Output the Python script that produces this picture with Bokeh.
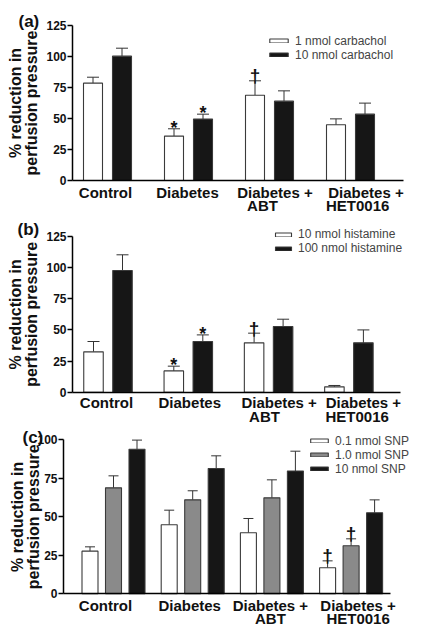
import numpy as np
from bokeh.plotting import figure
from bokeh.models import (ColumnDataSource, Range1d, FixedTicker, Whisker, TeeHead,
                          Legend, LegendItem, Label)
from bokeh.layouts import column
from bokeh.embed import file_html
from bokeh.resources import INLINE
from bokeh.core.properties import value

FONT = "Liberation Sans"

# ---------------- data ----------------
categories = ["Control", "Diabetes", "Diabetes +\nABT", "Diabetes +\nHET0016"]
y_title = "% reduction in\nperfusion pressure"

# (a) carbachol
a_labels = ["1 nmol carbachol", "10 nmol carbachol"]
a_carb1 = [78.5, 35.8, 68.8, 44.9]
a_carb1_err = [4.8, 5.9, 11.6, 4.8]
a_carb10 = [100.3, 49.5, 64.0, 53.5]
a_carb10_err = [6.4, 4.0, 8.3, 8.9]
a_sig = [["", "*", "\u2020", ""], ["", "*", "", ""]]

# (b) histamine
b_labels = ["10 nmol histamine", "100 nmol histamine"]
b_hist10 = [32.4, 17.1, 39.6, 4.3]
b_hist10_err = [8.3, 3.8, 7.8, 1.1]
b_hist100 = [97.7, 40.7, 52.7, 39.6]
b_hist100_err = [12.6, 5.3, 5.9, 10.4]
b_sig = [["", "*", "\u2020", ""], ["", "*", "", ""]]

# (c) SNP
c_labels = ["0.1 nmol SNP", "1.0 nmol SNP", "10 nmol SNP"]
c_snp01 = [27.7, 44.8, 39.6, 16.9]
c_snp01_err = [2.8, 9.5, 9.3, 4.5]
c_snp1 = [68.8, 61.0, 62.3, 31.2]
c_snp1_err = [7.8, 5.9, 11.7, 4.5]
c_snp10 = [93.9, 81.4, 79.7, 52.6]
c_snp10_err = [5.9, 8.2, 12.9, 8.4]
c_sig = [["", "", "", "\u2020"], ["", "", "", "\u2020"], ["", "", "", ""]]

ticks_ab = [0, 25, 50, 75, 100, 125]
ticks_c = [0, 25, 50, 75, 100]

WHITE = "#ffffff"
GRAY = "#8a8a8a"
BLACK = "#161616"
W = 423


def make_panel(tag, labels, vals, errs, sigs, colors, y_ticks, g):
    # g holds pixel geometry of the panel (relative to the figure's top-left)
    h = g["h"]
    pyu = (g["zero"] - g["top"]) / y_ticks[-1]          # px per y unit
    pxu = g["sp"]                                         # px per group
    y0 = -(h - g["zero"]) / pyu
    y1 = g["zero"] / pyu
    x0 = -g["c0"] / pxu
    x1 = (W - g["c0"]) / pxu
    ax_l = (g["axl"] - g["c0"]) / pxu
    ax_r = (g["axr"] - g["c0"]) / pxu

    p = figure(width=W, height=h, x_range=Range1d(x0, x1), y_range=Range1d(y0, y1),
               output_backend="svg", toolbar_location=None, min_border=0,
               min_border_left=0, min_border_right=0, min_border_top=0, min_border_bottom=0)
    p.outline_line_color = None
    p.xgrid.visible = False
    p.ygrid.visible = False
    p.background_fill_color = None
    p.border_fill_color = None

    n = len(vals)
    idx = np.arange(len(categories))
    items = []
    for k in range(n):
        off = (k - (n - 1) / 2) * g["off"] / pxu
        x = idx + off
        top = np.array(vals[k])
        up = top + np.array(errs[k])
        src = ColumnDataSource(dict(x=x, top=top, up=up))
        r = p.vbar(x="x", top="top", bottom=0, width=g["w"] / pxu, source=src,
                   fill_color=colors[k], line_color="#3a3a3a", line_width=1.1)
        items.append(LegendItem(label=labels[k], renderers=[r]))
        wk = Whisker(base="x", lower="top", upper="up", source=src, dimension="height",
                     line_color="#333333", line_width=1,
                     upper_head=TeeHead(size=g["cap"], line_color="#333333", line_width=1),
                     lower_head=None)
        p.add_layout(wk)
        star = np.array([s == "*" for s in sigs[k]])
        dag = np.array([s == "\u2020" for s in sigs[k]])
        if star.any():
            ssrc = ColumnDataSource(dict(x=x[star], y=up[star], t=["*"] * int(star.sum())))
            p.text(x="x", y="y", text="t", source=ssrc, text_font=value(FONT),
                   text_font_style="bold", text_font_size="18px", text_align="center",
                   text_baseline="alphabetic", y_offset=-1, text_color="#111111")
        if dag.any():
            dsrc = ColumnDataSource(dict(x=x[dag], y=up[dag], t=["\u2020"] * int(dag.sum())))
            p.text(x="x", y="y", text="t", source=dsrc, text_font=value(FONT),
                   text_font_style="bold", text_font_size="19px", text_align="center",
                   text_baseline="alphabetic", y_offset=-5, text_color="#111111")

    legend = Legend(items=items, location=(g["lx"], h - g["lb"]), glyph_width=g["gw"],
                    glyph_height=5, label_text_font=FONT, label_text_font_size="12px",
                    label_standoff=5, label_height=13, padding=0, spacing=0, margin=0,
                    border_line_color=None, background_fill_alpha=0)
    p.add_layout(legend)

    # x axis: tick label positions follow the group index, shifted by a few pixels
    tick_pos = [round(i + s / pxu, 4) for i, s in enumerate(g["lshift"])]
    tick_txt = []
    for c, pad in zip(categories, g["pad2"]):
        parts = c.split("\n")
        if len(parts) > 1:
            parts[-1] = parts[-1] + " " * pad
        tick_txt.append("\n".join(parts))
    xa = p.xaxis[0]
    xa.fixed_location = 0
    xa.bounds = (ax_l, ax_r)
    xa.ticker = FixedTicker(ticks=tick_pos)
    xa.major_label_overrides = {t: c for t, c in zip(tick_pos, tick_txt)}
    xa.major_tick_line_color = None
    xa.major_tick_out = 0
    xa.major_tick_in = 0
    xa.minor_tick_line_color = None
    xa.axis_line_color = "black"
    xa.axis_line_width = 1.5
    xa.major_label_text_font = FONT
    xa.major_label_text_font_style = "bold"
    xa.major_label_text_font_size = "15px"
    xa.major_label_text_line_height = 0.8
    xa.major_label_text_color = "#111111"
    xa.major_label_standoff = g["xs"]

    # y axis
    ya = p.yaxis[0]
    ya.fixed_location = ax_l
    ya.bounds = (0, y_ticks[-1])
    ya.ticker = FixedTicker(ticks=y_ticks)
    ya.minor_tick_line_color = None
    ya.major_tick_out = 5
    ya.major_tick_in = 0
    ya.major_tick_line_width = 1.5
    ya.axis_line_width = 1.5
    ya.major_label_text_font = FONT
    ya.major_label_text_font_style = "bold"
    ya.major_label_text_font_size = "12px"
    ya.major_label_text_color = "#111111"
    ya.major_label_standoff = 1

    # y axis title (rotated, two centred lines, centred on the axis)
    yc = (g["top"] + g["zero"]) / 2
    p.add_layout(Label(x=g["yx"], y=h - yc, x_units="screen", y_units="screen",
                       text=y_title, angle=np.pi / 2, text_align="center", text_baseline="top",
                       text_font=FONT, text_font_style="bold", text_font_size="16px",
                       text_line_height=0.95, text_color="#111111"))

    p.add_layout(Label(x=g["tx"], y=h - g["ty"], x_units="screen", y_units="screen",
                       text=tag, text_font=FONT, text_font_style="bold",
                       text_font_size="17px", text_color="#111111",
                       text_baseline="alphabetic"))
    return p


# pixel geometry of each panel (relative to the panel's top-left corner)
ga = dict(h=216, top=25, zero=180, c0=107, sp=81, axl=72, axr=403, off=29, w=19,
          cap=12, lx=267, lb=61.5, gw=23, tx=18, ty=21, yx=6,
          lshift=[-2, -1, 5.5, 15.5], pad2=[0, 0, 6, 4], xs=3)
gb = dict(h=209, top=20, zero=175.7, c0=107.5, sp=80.3, axl=72, axr=400, off=29, w=19.5,
          cap=12, lx=273, lb=39, gw=20, tx=17, ty=13, yx=6,
          lshift=[-1.5, 1.5, 10.5, 14.5], pad2=[0, 0, 7, 3], xs=2)
gc = dict(h=213, top=14.3, zero=168.3, c0=113, sp=79.2, axl=63, axr=390, off=23.5, w=16,
          cap=10, lx=308, lb=50.5, gw=22, tx=22, ty=11.5, yx=8,
          lshift=[-8, -3, -1.5, 7], pad2=[0, 0, 0, 0], xs=3)

pa = make_panel("(a)", a_labels, [a_carb1, a_carb10], [a_carb1_err, a_carb10_err], a_sig,
                [WHITE, BLACK], ticks_ab, ga)
pb = make_panel("(b)", b_labels, [b_hist10, b_hist100], [b_hist10_err, b_hist100_err], b_sig,
                [WHITE, BLACK], ticks_ab, gb)
pc = make_panel("(c)", c_labels, [c_snp01, c_snp1, c_snp10],
                [c_snp01_err, c_snp1_err, c_snp10_err], c_sig,
                [WHITE, GRAY, BLACK], ticks_c, gc)

layout = column(pa, pb, pc, spacing=0)
open("out.html", "w").write(file_html(layout, INLINE))
